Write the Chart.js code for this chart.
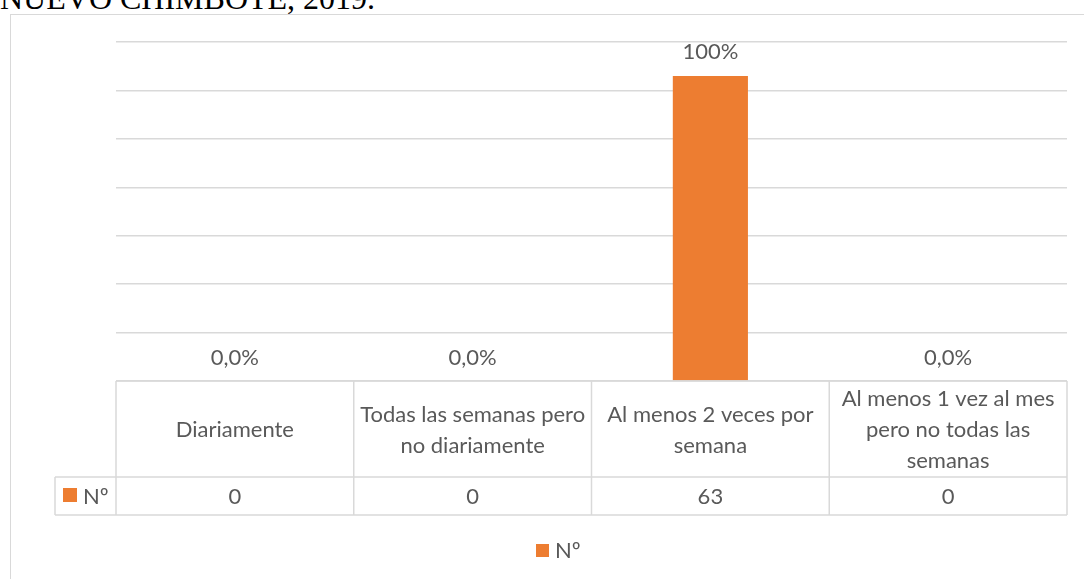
<!DOCTYPE html>
<html>
<head>
<meta charset="utf-8">
<script src="https://cdn.jsdelivr.net/npm/chart.js@4.4.1/dist/chart.umd.min.js"></script>
<style>
  html, body { margin: 0; padding: 0; overflow: hidden; background: #fff; }
  body { position: relative; width: 1084px; height: 579px; }
  .title {
    position: absolute; left: 0; top: -18px;
    font: 32px/32px "Liberation Serif", "Times New Roman", serif;
    color: #000; white-space: nowrap;
  }
  .frame {
    position: absolute; left: 10px; top: 14px;
    width: 1080px; height: 580px;
    border: 1px solid #d9d9d9;
  }
</style>
</head>
<body>
<div class="title">NUEVO CHIMBOTE, 2019.</div>
<div class="frame"><canvas id="barChart"></canvas></div>
<script>
// datos
const categories = [
    ["Diariamente"],
    ["Todas las semanas pero", "no diariamente"],
    ["Al menos 2 veces por", "semana"],
    ["Al menos 1 vez al mes", "pero no todas las", "semanas"]
];
const seriesName = "Nº";
const counts = [0, 0, 63, 0];
const pctLabels = ["0,0%", "0,0%", "100%", "0,0%"];
const yMax = 70;
const yStep = 10;

const barColor = "#ED7D31";
const textColor = "#595959";
const lineColor = "#d9d9d9";
const font = "22px Lato, 'Liberation Sans', sans-serif";

// porcentajes encima de las barras
const barLabels = {
    id: 'barLabels',
    afterDatasetsDraw(chart) {
        const ctx = chart.ctx;
        const meta = chart.getDatasetMeta(0);
        ctx.save();
        ctx.font = font;
        ctx.fillStyle = textColor;
        ctx.textAlign = 'center';
        ctx.textBaseline = 'middle';
        meta.data.forEach((bar, i) => {
            ctx.fillText(pctLabels[i], bar.x, bar.y - 23.5);
        });
        ctx.restore();
    }
};

// tabla de datos debajo del eje (como en Excel)
const dataTable = {
    id: 'dataTable',
    afterDraw(chart) {
        const ctx = chart.ctx;
        const area = chart.chartArea;
        const x = chart.scales.x;
        const colW = area.width / categories.length;
        const top = area.bottom;
        const mid = top + 96;
        const bottom = mid + 38;
        const keyLeft = 44;

        ctx.save();
        ctx.strokeStyle = lineColor;
        ctx.lineWidth = 1.5;
        ctx.beginPath();
        ctx.moveTo(area.left, top); ctx.lineTo(area.right, top);
        ctx.moveTo(keyLeft, mid); ctx.lineTo(area.right, mid);
        ctx.moveTo(keyLeft, bottom); ctx.lineTo(area.right, bottom);
        ctx.moveTo(keyLeft, mid); ctx.lineTo(keyLeft, bottom);
        for (let i = 0; i <= categories.length; i++) {
            const px = area.left + i * colW;
            ctx.moveTo(px, top); ctx.lineTo(px, bottom);
        }
        ctx.stroke();

        ctx.font = font;
        ctx.fillStyle = textColor;
        ctx.textAlign = 'center';
        ctx.textBaseline = 'middle';
        const lh = 31;
        categories.forEach((lines, i) => {
            const cx = x.getPixelForValue(i);
            const cy = (top + mid) / 2 + 1;
            const y0 = cy - (lines.length - 1) * lh / 2;
            lines.forEach((l, j) => ctx.fillText(l, cx, y0 + j * lh));
            ctx.fillText(String(counts[i]), cx, (mid + bottom) / 2 + 0.5);
        });

        // clave de la serie en la tabla
        ctx.fillStyle = barColor;
        ctx.fillRect(keyLeft + 8, mid + 11, 14, 14);
        ctx.fillStyle = textColor;
        ctx.textAlign = 'left';
        ctx.fillText(seriesName, keyLeft + 28, (mid + bottom) / 2 + 0.5);

        // leyenda inferior
        ctx.fillStyle = barColor;
        ctx.fillRect(525, 529, 13, 13);
        ctx.fillStyle = textColor;
        ctx.fillText(seriesName, 544, 536);
        ctx.restore();
    }
};

var options = {
    type: 'bar',
    data: {
        labels: categories,
        datasets: [{
            label: seriesName,
            data: counts,
            backgroundColor: barColor,
            borderWidth: 0,
            categoryPercentage: 1,
            barPercentage: 0.316
        }]
    },
    options: {
        responsive: true,
        maintainAspectRatio: false,
        animation: false,
        layout: {
            padding: { left: 105, right: 24, top: 27, bottom: 214 }
        },
        scales: {
            x: {
                display: false
            },
            y: {
                min: 0,
                max: yMax,
                ticks: { display: false, stepSize: yStep },
                border: { display: false },
                grid: { color: lineColor, lineWidth: 1.5, drawTicks: false },
                afterFit: (s) => { s.width = 0; }
            }
        },
        plugins: {
            legend: { display: false },
            tooltip: { enabled: false },
            title: { display: false }
        }
    },
    plugins: [barLabels, dataTable]
};

new Chart(document.getElementById("barChart").getContext("2d"), options);
</script>
</body>
</html>
